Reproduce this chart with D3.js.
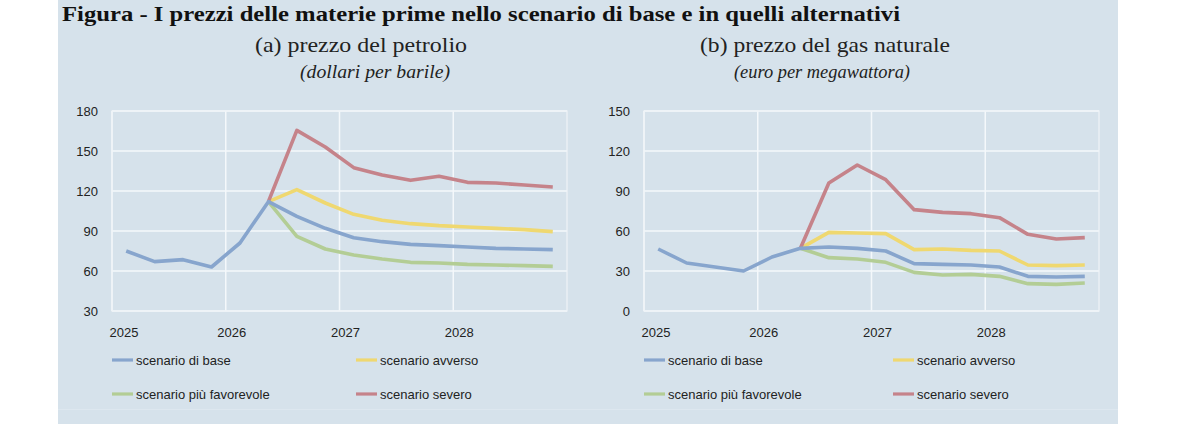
<!DOCTYPE html>
<html>
<head>
<meta charset="utf-8">
<script src="https://cdn.jsdelivr.net/npm/d3@7"></script>
<style>
  body { margin: 0; background: #fff; }
  svg { display: block; }
</style>
</head>
<body>
<svg id="chart" width="1200" height="424"></svg>
<script>
const quarters = ["2025T1","2025T2","2025T3","2025T4","2026T1","2026T2","2026T3","2026T4",
                  "2027T1","2027T2","2027T3","2027T4","2028T1","2028T2","2028T3","2028T4"]
const years = ["2025","2026","2027","2028"]

// prezzo del petrolio (dollari per barile)
const oilBase = [75, 67, 68.5, 63, 81, 112, 101, 92, 85, 82, 80, 79, 78, 77, 76.5, 76]
const oilAvverso = [null, null, null, null, null, 112, 121, 111, 102.5, 98, 95.5, 94, 93, 92, 91, 89.5]
const oilFavorevole = [null, null, null, null, null, 112, 86, 76.5, 72, 69, 66.5, 66, 65, 64.5, 64, 63.5]
const oilSevero = [null, null, null, null, null, 112, 165.5, 153, 137.5, 132, 128, 131, 126.5, 126, 124.5, 123]
const oilTicks = [30, 60, 90, 120, 150, 180]

// prezzo del gas naturale (euro per megawattora)
const gasBase = [46.5, 36, 33, 30, 40.5, 47, 48, 47, 45, 35.5, 35, 34.5, 33, 26, 25.5, 26]
const gasAvverso = [null, null, null, null, null, 47, 59, 58.5, 58, 46, 46.5, 45.5, 45, 34.5, 34, 34.5]
const gasFavorevole = [null, null, null, null, null, 47, 40, 39, 36.5, 29, 27, 27.5, 26, 20.5, 20, 21]
const gasSevero = [null, null, null, null, null, 47, 96, 109.5, 98.5, 76, 74, 73, 70, 57.5, 54, 55]
const gasTicks = [0, 30, 60, 90, 120, 150]

const scenarioNames = ["scenario di base", "scenario avverso", "scenario più favorevole", "scenario severo"]
const colors = ["#87a5cd", "#efd870", "#b3cd95", "#c5838a"]

const svg = d3.select("#chart")

// sfondo
svg.append("rect").attr("x", 58).attr("y", 0).attr("width", 1060).attr("height", 424).attr("fill", "#d6e2eb")
svg.append("line").attr("x1", 58).attr("x2", 1118).attr("y1", 409.5).attr("y2", 409.5)
  .attr("stroke", "#dde7ef").attr("stroke-width", 1)

svg.append("text").attr("x", 62).attr("y", 21)
  .attr("font-family", "'Liberation Serif', serif").attr("font-weight", "bold").attr("font-size", 22)
  .attr("fill", "#111")
  .attr("textLength", 838).attr("lengthAdjust", "spacingAndGlyphs")
  .text("Figura - I prezzi delle materie prime nello scenario di base e in quelli alternativi")

function panel(opts) {
  const g = svg.append("g")
  const x = d3.scaleBand().domain(quarters).range([opts.left, opts.right]).padding(0)
  const y = d3.scaleLinear().domain(opts.domain).range([311, 111])

  g.append("text").attr("x", opts.titleX).attr("y", 52).attr("text-anchor", "middle")
    .attr("font-family", "'Liberation Serif', serif").attr("font-size", 22).attr("fill", "#222")
    .attr("textLength", opts.titleW).attr("lengthAdjust", "spacingAndGlyphs")
    .text(opts.title)
  g.append("text").attr("x", opts.unitX).attr("y", 78).attr("text-anchor", "middle")
    .attr("font-family", "'Liberation Serif', serif").attr("font-style", "italic").attr("font-size", 19).attr("fill", "#222")
    .attr("textLength", opts.unitW).attr("lengthAdjust", "spacingAndGlyphs")
    .text(opts.unit)

  // griglia
  g.selectAll(".hgrid").data(opts.ticks).enter().append("line")
    .attr("x1", opts.left).attr("x2", opts.right)
    .attr("y1", d => y(d)).attr("y2", d => y(d))
    .attr("stroke", "#f4f8fb").attr("stroke-width", 1.5)
  g.selectAll(".vgrid").data(years).enter().append("line")
    .attr("x1", d => x(d + "T1")).attr("x2", d => x(d + "T1"))
    .attr("y1", 111).attr("y2", 311)
    .attr("stroke", "#f4f8fb").attr("stroke-width", 1.5)
  g.append("rect").attr("x", opts.left).attr("y", 111)
    .attr("width", opts.right - opts.left).attr("height", 200)
    .attr("fill", "none").attr("stroke", "#eef3f7").attr("stroke-width", 1.2)

  const yAxis = d3.axisLeft(y).tickValues(opts.ticks).tickSize(0).tickPadding(0)
  g.append("g").attr("transform", `translate(${opts.left - 14},0)`).call(yAxis)
    .call(a => a.select(".domain").remove())
    .selectAll("text").attr("font-family", "'Liberation Sans', Arial, sans-serif")
    .attr("font-size", 13).attr("fill", "#222")

  g.selectAll(".xlab").data(years).enter().append("text")
    .attr("x", d => x(d + "T1") + (d === "2025" ? 12 : 6)).attr("y", 337)
    .attr("text-anchor", "middle")
    .attr("font-family", "'Liberation Sans', Arial, sans-serif").attr("font-size", 13).attr("fill", "#222")
    .text(d => d)

  const line = d3.line()
    .defined(d => d.v !== null)
    .x(d => x(d.q) + x.bandwidth() / 2)
    .y(d => y(d.v))

  // disegno: favorevole, avverso, severo, poi base sopra
  const order = [2, 1, 3, 0]
  order.forEach(i => {
    const pts = quarters.map((q, j) => ({ q: q, v: opts.series[i][j] }))
    g.append("path").datum(pts).attr("d", line)
      .attr("fill", "none").attr("stroke", colors[i]).attr("stroke-width", 3.6)
      .attr("stroke-linejoin", "round")
  })

  // legenda
  scenarioNames.forEach((name, i) => {
    const lx = opts.left + (i % 2 === 0 ? 0 : opts.legendCol2)
    const ly = i < 2 ? 360 : 394
    g.append("line").attr("x1", lx).attr("x2", lx + 21).attr("y1", ly).attr("y2", ly)
      .attr("stroke", colors[i]).attr("stroke-width", 3.2)
    g.append("text").attr("x", lx + 24).attr("y", ly + 4.5)
      .attr("font-family", "'Liberation Sans', Arial, sans-serif").attr("font-size", 13).attr("fill", "#222")
      .text(name)
  })
}

panel({
  left: 112, right: 567, domain: [30, 180], ticks: oilTicks,
  title: "(a) prezzo del petrolio", unit: "(dollari per barile)",
  titleX: 361, titleW: 212, unitX: 375, unitW: 150,
  series: [oilBase, oilAvverso, oilFavorevole, oilSevero], legendCol2: 244
})
panel({
  left: 644, right: 1099, domain: [0, 150], ticks: gasTicks,
  title: "(b) prezzo del gas naturale", unit: "(euro per megawattora)",
  titleX: 825, titleW: 250, unitX: 822, unitW: 176,
  series: [gasBase, gasAvverso, gasFavorevole, gasSevero], legendCol2: 249
})
</script>
</body>
</html>
